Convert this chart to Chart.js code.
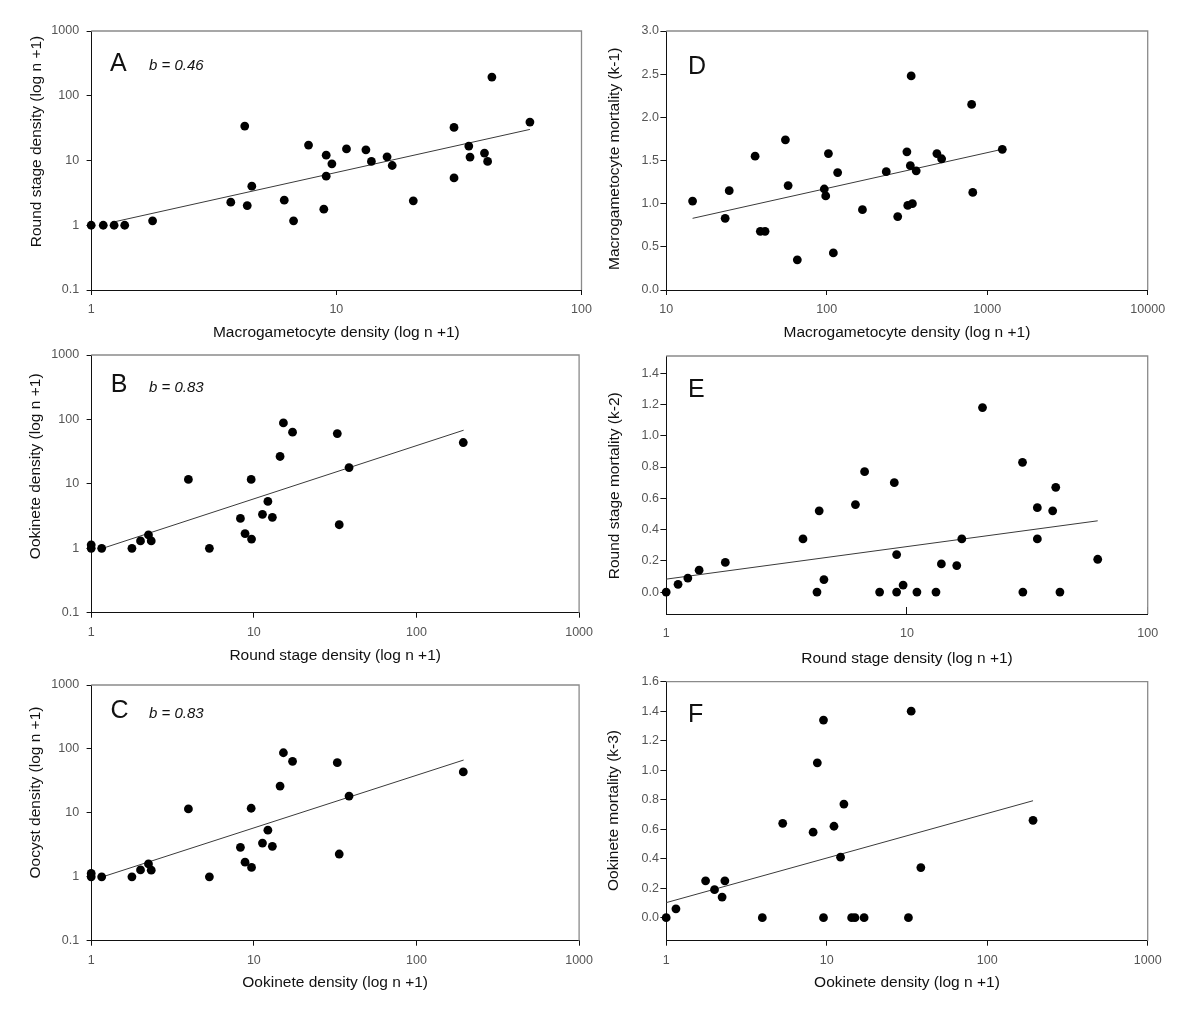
<!DOCTYPE html>
<html>
<head>
<meta charset="utf-8">
<script src="https://cdn.jsdelivr.net/npm/chart.js@4.4.0/dist/chart.umd.min.js"></script>
<style>
    html, body { margin: 0; padding: 0; background: #fff; }
    #wrap { position: relative; width: 1200px; height: 1014px; overflow: hidden; }
    #wrap canvas { position: absolute; }
</style>
</head>
<body>
<div id="wrap"></div>
<script>
// --- DATA ---

// A: macrogametocyte density vs round stage density
const macroDensityA = [1, 1.12, 1.24, 1.37, 1.78, 3.71, 4.23, 4.33, 4.52, 6.13, 6.69, 7.70, 8.89, 9.09, 9.09, 9.59, 11.0, 13.2, 13.9, 16.1, 16.9, 20.6, 30.2, 30.2, 34.7, 35.1, 40.2, 41.4, 43.1, 61.6];
const roundDensityA = [1, 1, 1, 1, 1.17, 2.27, 34, 2.01, 4.01, 2.44, 1.17, 17.3, 1.77, 5.72, 12.1, 8.88, 15.1, 14.6, 9.66, 11.4, 8.37, 2.38, 32.4, 5.39, 16.7, 11.3, 13.0, 9.66, 194, 39.2];
const trendAx = [1.23, 61.6];
const trendAy = [1.12, 30.2];

// B: round stage density vs ookinete density
const roundDensityB = [1, 1, 1.16, 1.78, 2.01, 2.25, 2.34, 3.96, 5.33, 8.27, 8.83, 9.68, 9.63, 11.3, 12.2, 13.0, 14.5, 15.2, 17.3, 32.6, 33.5, 38.5, 194];
const ookDensityB = [1.13, 1, 1, 1, 1.30, 1.61, 1.30, 11.7, 1, 2.91, 1.69, 1.39, 11.7, 3.36, 5.34, 3.02, 26.6, 88.3, 63.3, 60.3, 2.32, 17.9, 43.8];
const trendBx = [1.15, 195];
const trendBy = [0.98, 68];

// C: ookinete density vs oocyst density
const ookDensityC = [1, 1, 1.16, 1.78, 2.01, 2.25, 2.34, 3.96, 5.33, 8.27, 8.83, 9.68, 9.63, 11.3, 12.2, 13.0, 14.5, 15.2, 17.3, 32.6, 33.5, 38.5, 194];
const oocystDensityC = [1.13, 1, 1, 1, 1.28, 1.59, 1.27, 11.5, 1, 2.89, 1.69, 1.40, 11.8, 3.37, 5.36, 2.99, 26.2, 87.1, 63.9, 60.9, 2.27, 18.3, 43.6];
const trendCx = [1.15, 195];
const trendCy = [0.98, 67];

// D: macrogametocyte density vs mortality k-1
const macroDensityD = [14.6, 23.3, 24.7, 35.8, 38.6, 41.3, 55.3, 57.5, 65.6, 96.6, 98.6, 102.5, 110, 117, 167, 235, 277, 316, 320, 332, 336, 342, 361, 486, 520, 800, 813, 1242];
const macroMortD = [1.03, 0.83, 1.15, 1.55, 0.68, 0.68, 1.74, 1.21, 0.35, 1.17, 1.09, 1.58, 0.43, 1.36, 0.93, 1.37, 0.85, 1.60, 0.98, 1.44, 2.48, 1.00, 1.38, 1.58, 1.52, 2.15, 1.13, 1.63];
const trendDx = [14.6, 1242];
const trendDy = [0.83, 1.63];

// E: round stage density vs mortality k-2
const roundDensityE = [1, 1.12, 1.23, 1.37, 1.76, 3.70, 4.23, 4.32, 4.52, 6.11, 6.67, 7.70, 8.86, 9.06, 9.06, 9.64, 11.0, 13.2, 13.9, 16.1, 16.9, 20.6, 30.2, 30.3, 34.8, 34.8, 40.3, 41.5, 43.2, 62.0];
const roundMortE = [0, 0.05, 0.09, 0.14, 0.19, 0.34, 0, 0.52, 0.08, 0.56, 0.77, 0, 0.70, 0.24, 0, 0.045, 0, 0, 0.18, 0.17, 0.34, 1.18, 0.83, 0, 0.54, 0.34, 0.52, 0.67, 0, 0.21];
const trendEx = [1, 62];
const trendEy = [0.083, 0.456];

// F: ookinete density vs mortality k-3
const ookDensityF = [1, 1.15, 1.76, 2.00, 2.23, 2.32, 3.97, 5.32, 8.23, 8.74, 9.55, 9.55, 11.1, 12.2, 12.8, 14.3, 15.0, 17.1, 32.3, 33.6, 38.6, 193];
const ookMortF = [0, 0.06, 0.25, 0.19, 0.14, 0.25, 0, 0.64, 0.58, 1.05, 1.34, 0, 0.62, 0.41, 0.77, 0, 0, 0, 0, 1.40, 0.34, 0.66];
const trendFx = [1, 193];
const trendFy = [0.102, 0.793];

// tick values
const logTicks2 = [1, 10, 100];
const logTicks3 = [1, 10, 100, 1000];
const logTicksD = [10, 100, 1000, 10000];
const logTicksY = [0.1, 1, 10, 100, 1000];
const ticksD = [0, 0.5, 1.0, 1.5, 2.0, 2.5, 3.0];
const ticksE = [0, 0.2, 0.4, 0.6, 0.8, 1.0, 1.2, 1.4];
const ticksF = [0, 0.2, 0.4, 0.6, 0.8, 1.0, 1.2, 1.4, 1.6];

// --- LAYOUT ---
const FONT = '"Liberation Sans", Arial, Helvetica, sans-serif';
const toPoints = (xs, ys) => xs.map((x, i) => ({ x, y: ys[i] }));
const logLabel = v => String(v);
const fixLabel = v => v.toFixed(1);

const panels = [
    { letter: 'A', b: 'b = 0.46', box: [0, 0, 600, 340], area: [91.2, 31, 581.5, 290],
      xs: macroDensityA, ys: roundDensityA, tx: trendAx, ty: trendAy,
      xType: 'logarithmic', xRange: [1, 100], xTicks: logTicks2,
      yType: 'logarithmic', yRange: [0.1, 1000], yTicks: logTicksY, yFmt: logLabel,
      xTitle: 'Macrogametocyte density (log n +1)', yTitle: 'Round stage density (log n +1)',
      yTitlePos: [36.5, 141.5], xTitleY: 333, letterPos: [110, 71], bPos: [149, 70] },
    { letter: 'B', b: 'b = 0.83', box: [0, 340, 600, 330], area: [91.2, 354.3, 581.5, 612.7],
      xs: roundDensityB, ys: ookDensityB, tx: trendBx, ty: trendBy,
      xType: 'logarithmic', xRange: [1, 1000], xTicks: logTicks3,
      yType: 'logarithmic', yRange: [0.1, 1000], yTicks: logTicksY, yFmt: logLabel,
      xTitle: 'Round stage density (log n +1)', yTitle: 'Ookinete density (log n +1)',
      yTitlePos: [35.4, 466.3], xTitleY: 655.8, letterPos: [110.8, 392.3], bPos: [149, 391.7] },
    { letter: 'C', b: 'b = 0.83', box: [0, 670, 600, 344], area: [91.2, 681.7, 581.5, 940.7],
      xs: ookDensityC, ys: oocystDensityC, tx: trendCx, ty: trendCy,
      xType: 'logarithmic', xRange: [1, 1000], xTicks: logTicks3,
      yType: 'logarithmic', yRange: [0.1, 1000], yTicks: logTicksY, yFmt: logLabel,
      xTitle: 'Ookinete density (log n +1)', yTitle: 'Oocyst density (log n +1)',
      yTitlePos: [35.4, 792.5], xTitleY: 982.5, letterPos: [110.4, 718.3], bPos: [149, 718.3] },
    { letter: 'D', b: null, box: [595, 0, 605, 340], area: [666.2, 31, 1147.7, 290],
      xs: macroDensityD, ys: macroMortD, tx: trendDx, ty: trendDy,
      xType: 'logarithmic', xRange: [10, 10000], xTicks: logTicksD,
      yType: 'linear', yRange: [0, 3.0], yTicks: ticksD, yFmt: fixLabel,
      xTitle: 'Macrogametocyte density (log n +1)', yTitle: 'Macrogametocyte mortality (k-1)',
      yTitlePos: [615, 158.8], xTitleY: 333, letterPos: [688, 74] },
    { letter: 'E', b: null, box: [595, 340, 605, 330], area: [666.2, 356, 1147.7, 614],
      xs: roundDensityE, ys: roundMortE, tx: trendEx, ty: trendEy,
      xType: 'logarithmic', xRange: [1, 100], xTicks: logTicks2, innerTicks: true,
      yType: 'linear', yRange: [-0.14, 1.51], yTicks: ticksE, yFmt: fixLabel,
      xTitle: 'Round stage density (log n +1)', yTitle: 'Round stage mortality (k-2)',
      yTitlePos: [615, 485.8], xTitleY: 658.3, letterPos: [688, 396.7] },
    { letter: 'F', b: null, box: [595, 670, 605, 344], area: [666.2, 681.7, 1147.7, 940.7],
      xs: ookDensityF, ys: ookMortF, tx: trendFx, ty: trendFy,
      xType: 'logarithmic', xRange: [1, 1000], xTicks: logTicks3,
      yType: 'linear', yRange: [-0.156, 1.6], yTicks: ticksF, yFmt: fixLabel,
      xTitle: 'Ookinete density (log n +1)', yTitle: 'Ookinete mortality (k-3)',
      yTitlePos: [613.8, 810.5], xTitleY: 982.5, letterPos: [688, 721.7] }
];

// draws gray top/right frame, panel letter, b value and axis titles
const decorPlugin = {
    id: 'decor',
    afterDraw(chart, args, p) {
        const { ctx, chartArea: a } = chart;
        const ox = p.box[0], oy = p.box[1];
        ctx.save();
        ctx.strokeStyle = '#8a8a8a';
        ctx.lineWidth = 1.3;
        ctx.beginPath();
        ctx.moveTo(a.left, a.top);
        ctx.lineTo(a.right, a.top);
        ctx.lineTo(a.right, a.bottom);
        ctx.stroke();

        ctx.fillStyle = '#111';
        ctx.textBaseline = 'alphabetic';
        ctx.textAlign = 'left';
        ctx.font = '25px ' + FONT;
        ctx.fillText(p.letter, p.letterPos[0] - ox, p.letterPos[1] - oy);
        if (p.b) {
            ctx.font = 'italic 15px ' + FONT;
            ctx.fillText(p.b, p.bPos[0] - ox, p.bPos[1] - oy);
        }

        ctx.font = '15.5px ' + FONT;
        ctx.textAlign = 'center';
        ctx.textBaseline = 'middle';
        ctx.fillText(p.xTitle, (a.left + a.right) / 2, p.xTitleY - oy);
        ctx.translate(p.yTitlePos[0] - ox, p.yTitlePos[1] - oy);
        ctx.rotate(-Math.PI / 2);
        ctx.fillText(p.yTitle, 0, 0);
        ctx.restore();
    }
};

const wrap = document.getElementById('wrap');

panels.forEach(p => {
    const [bx, by, bw, bh] = p.box;
    const [l, t, r, b] = p.area;
    const canvas = document.createElement('canvas');
    canvas.width = bw;
    canvas.height = bh;
    canvas.style.left = bx + 'px';
    canvas.style.top = by + 'px';
    wrap.appendChild(canvas);

    const leftSide = p.letter <= 'C';
    const tickFont = { family: FONT, size: 12.5 };

    new Chart(canvas, {
        type: 'scatter',
        data: {
            datasets: [
                {
                    data: toPoints(p.xs, p.ys),
                    backgroundColor: '#000',
                    borderWidth: 0,
                    pointRadius: 4.4,
                    clip: false
                },
                {
                    data: toPoints(p.tx, p.ty),
                    showLine: true,
                    borderColor: '#3a3a3a',
                    borderWidth: 1,
                    pointRadius: 0,
                    clip: false
                }
            ]
        },
        options: {
            responsive: false,
            animation: false,
            events: [],
            layout: { padding: { left: 0, bottom: 0, top: t - by, right: bx + bw - r } },
            plugins: { legend: { display: false }, tooltip: { enabled: false }, decor: p },
            scales: {
                x: {
                    type: p.xType,
                    min: p.xRange[0],
                    max: p.xRange[1],
                    afterBuildTicks: s => { s.ticks = p.xTicks.map(v => ({ value: v })); },
                    afterFit: s => { s.height = by + bh - b; },
                    border: { display: true, color: '#111', width: 1 },
                    grid: { drawOnChartArea: false, drawTicks: true, tickLength: p.innerTicks ? -7 : 5, color: '#111' },
                    ticks: {
                        autoSkip: false, maxRotation: 0, padding: p.innerTicks ? 19 : 7,
                        color: '#555', font: tickFont, callback: v => logLabel(v)
                    }
                },
                y: {
                    type: p.yType,
                    min: p.yRange[0],
                    max: p.yRange[1],
                    afterBuildTicks: s => { s.ticks = p.yTicks.map(v => ({ value: v })); },
                    afterFit: s => { s.width = l - bx; },
                    border: { display: true, color: '#111', width: 1 },
                    grid: { drawOnChartArea: false, drawTicks: true, tickLength: leftSide ? 4.6 : 5.8, color: '#111' },
                    ticks: {
                        autoSkip: false, padding: leftSide ? 7.5 : 1.5,
                        color: '#555', font: tickFont, callback: v => p.yFmt(v)
                    }
                }
            }
        },
        plugins: [decorPlugin]
    });
});
</script>
</body>
</html>
